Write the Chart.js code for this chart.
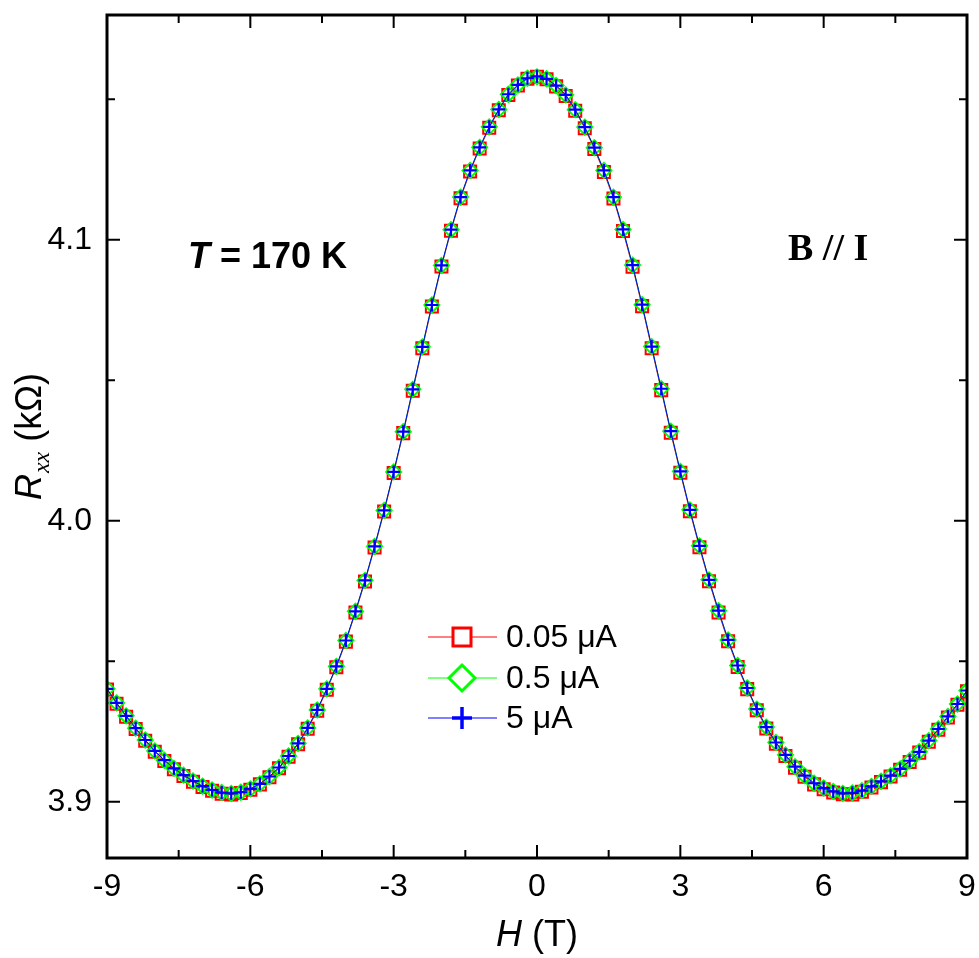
<!DOCTYPE html>
<html>
<head>
<meta charset="utf-8">
<script src="https://cdn.jsdelivr.net/npm/chart.js@4.4.1/dist/chart.umd.min.js"></script>
<style>
  html, body { margin: 0; padding: 0; background: #fff; }
  #wrap { width: 979px; height: 958px; }
</style>
</head>
<body>
<div id="wrap"><canvas id="rxxChart" width="979" height="958"></canvas></div>
<script>
// magnetic field H (T)
const fieldT = [
  -9.0, -8.8, -8.6, -8.4, -8.2, -8.0, -7.8, -7.6, -7.4, -7.2,
  -7.0, -6.8, -6.6, -6.4, -6.2, -6.0, -5.8, -5.6, -5.4, -5.2,
  -5.0, -4.8, -4.6, -4.4, -4.2, -4.0, -3.8, -3.6, -3.4, -3.2,
  -3.0, -2.8, -2.6, -2.4, -2.2, -2.0, -1.8, -1.6, -1.4, -1.2,
  -1.0, -0.8, -0.6, -0.4, -0.2, 0.0, 0.2, 0.4, 0.6, 0.8,
  1.0, 1.2, 1.4, 1.6, 1.8, 2.0, 2.2, 2.4, 2.6, 2.8,
  3.0, 3.2, 3.4, 3.6, 3.8, 4.0, 4.2, 4.4, 4.6, 4.8,
  5.0, 5.2, 5.4, 5.6, 5.8, 6.0, 6.2, 6.4, 6.6, 6.8,
  7.0, 7.2, 7.4, 7.6, 7.8, 8.0, 8.2, 8.4, 8.6, 8.8, 9.0
];

// Rxx (kOhm) for each current
const rxx005 = [
  3.9400, 3.9349, 3.9303, 3.9259, 3.9217, 3.9178, 3.9145, 3.9116, 3.9092, 3.9071,
  3.9053, 3.9039, 3.9029, 3.9026, 3.9031, 3.9043, 3.9062, 3.9087, 3.9119, 3.9160,
  3.9205, 3.9260, 3.9324, 3.9399, 3.9479, 3.9570, 3.9674, 3.9784, 3.9905, 4.0033,
  4.0170, 4.0312, 4.0463, 4.0614, 4.0763, 4.0905, 4.1032, 4.1148, 4.1243, 4.1325,
  4.1399, 4.1461, 4.1515, 4.1549, 4.1573, 4.1580, 4.1571, 4.1546, 4.1512, 4.1459,
  4.1397, 4.1323, 4.1241, 4.1147, 4.1031, 4.0904, 4.0764, 4.0614, 4.0465, 4.0313,
  4.0171, 4.0034, 3.9906, 3.9785, 3.9674, 3.9571, 3.9480, 3.9401, 3.9326, 3.9261,
  3.9207, 3.9163, 3.9121, 3.9089, 3.9062, 3.9045, 3.9033, 3.9027, 3.9026, 3.9036,
  3.9051, 3.9070, 3.9090, 3.9114, 3.9142, 3.9175, 3.9214, 3.9256, 3.9300, 3.9345, 3.9393
];
const rxx05 = [
  3.9402, 3.9352, 3.9306, 3.9262, 3.9220, 3.9181, 3.9148, 3.9119, 3.9095, 3.9074,
  3.9056, 3.9042, 3.9033, 3.9030, 3.9034, 3.9046, 3.9064, 3.9090, 3.9122, 3.9163,
  3.9208, 3.9263, 3.9327, 3.9402, 3.9482, 3.9574, 3.9678, 3.9788, 3.9909, 4.0037,
  4.0174, 4.0317, 4.0468, 4.0619, 4.0768, 4.0909, 4.1036, 4.1152, 4.1247, 4.1329,
  4.1402, 4.1464, 4.1518, 4.1551, 4.1575, 4.1580, 4.1573, 4.1549, 4.1516, 4.1463,
  4.1401, 4.1328, 4.1247, 4.1152, 4.1037, 4.0910, 4.0769, 4.0620, 4.0470, 4.0319,
  4.0176, 4.0039, 3.9911, 3.9790, 3.9680, 3.9576, 3.9485, 3.9405, 3.9330, 3.9266,
  3.9211, 3.9167, 3.9125, 3.9093, 3.9066, 3.9049, 3.9037, 3.9030, 3.9032, 3.9040,
  3.9055, 3.9073, 3.9093, 3.9117, 3.9146, 3.9178, 3.9218, 3.9259, 3.9304, 3.9348, 3.9396
];
const rxx5 = [
  3.9402, 3.9352, 3.9306, 3.9262, 3.9220, 3.9181, 3.9148, 3.9119, 3.9095, 3.9074,
  3.9056, 3.9042, 3.9033, 3.9030, 3.9034, 3.9046, 3.9064, 3.9090, 3.9122, 3.9163,
  3.9208, 3.9263, 3.9327, 3.9402, 3.9482, 3.9574, 3.9678, 3.9788, 3.9909, 4.0037,
  4.0174, 4.0317, 4.0468, 4.0619, 4.0768, 4.0909, 4.1036, 4.1152, 4.1247, 4.1329,
  4.1402, 4.1464, 4.1518, 4.1551, 4.1575, 4.1582, 4.1573, 4.1549, 4.1516, 4.1463,
  4.1401, 4.1328, 4.1247, 4.1152, 4.1037, 4.0910, 4.0769, 4.0620, 4.0470, 4.0319,
  4.0176, 4.0039, 3.9911, 3.9790, 3.9680, 3.9576, 3.9485, 3.9405, 3.9330, 3.9266,
  3.9211, 3.9167, 3.9125, 3.9093, 3.9066, 3.9049, 3.9037, 3.9030, 3.9032, 3.9040,
  3.9055, 3.9073, 3.9093, 3.9117, 3.9146, 3.9178, 3.9218, 3.9259, 3.9304, 3.9348, 3.9396
];

const seriesLabels = ['0.05 \u03bcA', '0.5 \u03bcA', '5 \u03bcA'];
const xTicks = [-9, -6, -3, 0, 3, 6, 9];
const xMinor = [-7.5, -4.5, -1.5, 1.5, 4.5, 7.5];
const yTicks = [3.9, 4.0, 4.1];
const yMinor = [3.95, 4.05, 4.15];

const SANS = "'Liberation Sans', Arial, sans-serif";
const SERIF = "'Liberation Serif', 'Times New Roman', serif";

const toPoints = arr => fieldT.map((h, i) => ({ x: h, y: arr[i] }));

// legend + frame + text drawn on top
const decor = {
  id: 'decor',
  afterDraw(chart) {
    const { ctx, chartArea: a, scales } = chart;
    const x = scales.x, y = scales.y;
    ctx.save();

    // frame
    ctx.strokeStyle = '#000';
    ctx.lineWidth = 3;
    ctx.strokeRect(a.left, a.top, a.right - a.left, a.bottom - a.top);

    // inward ticks on all four sides
    ctx.lineWidth = 2;
    ctx.beginPath();
    const xt = (v, len) => {
      const px = x.getPixelForValue(v);
      ctx.moveTo(px, a.bottom); ctx.lineTo(px, a.bottom - len);
      ctx.moveTo(px, a.top); ctx.lineTo(px, a.top + len);
    };
    const yt = (v, len) => {
      const py = y.getPixelForValue(v);
      ctx.moveTo(a.left, py); ctx.lineTo(a.left + len, py);
      ctx.moveTo(a.right, py); ctx.lineTo(a.right - len, py);
    };
    xTicks.forEach(v => xt(v, 13));
    xMinor.forEach(v => xt(v, 8));
    yTicks.forEach(v => yt(v, 13));
    yMinor.forEach(v => yt(v, 8));
    ctx.stroke();

    ctx.fillStyle = '#000';
    ctx.textBaseline = 'alphabetic';
    ctx.textAlign = 'left';

    // x axis title: H (T)
    ctx.font = 'italic 36px ' + SANS;
    const wH = ctx.measureText('H').width;
    ctx.font = '36px ' + SANS;
    const wT = ctx.measureText(' (T)').width;
    let sx = (a.left + a.right) / 2 - (wH + wT) / 2;
    ctx.font = 'italic 36px ' + SANS;
    ctx.fillText('H', sx, 946);
    ctx.font = '36px ' + SANS;
    ctx.fillText(' (T)', sx + wH, 946);

    // y axis title: Rxx (kΩ)
    ctx.save();
    ctx.translate(41, 437);
    ctx.rotate(-Math.PI / 2);
    ctx.font = 'italic 36px ' + SANS;
    const wR = ctx.measureText('R').width;
    ctx.font = 'italic 24px ' + SERIF;
    const wxx = ctx.measureText('xx').width;
    ctx.font = '36px ' + SANS;
    const wk = ctx.measureText(' (k\u03a9)').width;
    let ry = -(wR + wxx + wk) / 2;
    ctx.font = 'italic 36px ' + SANS;
    ctx.fillText('R', ry, 0);
    ctx.font = 'italic 24px ' + SERIF;
    ctx.fillText('xx', ry + wR + 1, 8);
    ctx.font = '36px ' + SANS;
    ctx.fillText(' (k\u03a9)', ry + wR + wxx + 1, 0);
    ctx.restore();

    // annotations
    ctx.font = 'italic bold 36px ' + SANS;
    ctx.fillText('T', 188, 268);
    const wTT = ctx.measureText('T').width;
    ctx.font = 'bold 36px ' + SANS;
    ctx.fillText(' = 170 K', 188 + wTT, 268);

    ctx.font = 'bold 38px ' + SERIF;
    ctx.fillText('B // I', 788, 260);

    // legend
    const rows = [637, 678, 718];
    const cols = ['#ff0000', '#00ff00', '#0000ff'];
    rows.forEach((ry2, i) => {
      ctx.strokeStyle = cols[i];
      ctx.lineWidth = 1;
      ctx.beginPath();
      ctx.moveTo(428, ry2); ctx.lineTo(497, ry2);
      ctx.stroke();
      ctx.beginPath();
      if (i === 0) {
        ctx.lineWidth = 3;
        ctx.fillStyle = '#fff';
        ctx.fillRect(453, ry2 - 9, 18, 18);
        ctx.strokeRect(453, ry2 - 9, 18, 18);
      } else if (i === 1) {
        ctx.lineWidth = 3;
        ctx.fillStyle = '#fff';
        ctx.moveTo(462, ry2 - 13); ctx.lineTo(475, ry2);
        ctx.lineTo(462, ry2 + 13); ctx.lineTo(449, ry2);
        ctx.closePath();
        ctx.fill();
        ctx.stroke();
      } else {
        ctx.lineWidth = 3.5;
        ctx.moveTo(452, ry2); ctx.lineTo(472, ry2);
        ctx.moveTo(462, ry2 - 11); ctx.lineTo(462, ry2 + 11);
        ctx.stroke();
      }
      ctx.fillStyle = '#000';
      ctx.font = '32px ' + SANS;
      ctx.textBaseline = 'middle';
      ctx.fillText(seriesLabels[i], 506, ry2 + 1);
      ctx.textBaseline = 'alphabetic';
    });

    ctx.restore();
  }
};

const ctx = document.getElementById('rxxChart').getContext('2d');
new Chart(ctx, {
  type: 'line',
  data: {
    datasets: [
      {
        label: seriesLabels[2],
        data: toPoints(rxx5),
        borderColor: '#0000ff',
        borderWidth: 1,
        pointStyle: 'cross',
        pointRadius: 6.5,
        pointBorderWidth: 2.2,
        pointBorderColor: '#0000ff',
        pointBackgroundColor: '#0000ff',
        tension: 0
      },
      {
        label: seriesLabels[1],
        data: toPoints(rxx05),
        borderColor: '#00ff00',
        borderWidth: 1,
        pointStyle: 'rectRot',
        pointRadius: 7.5,
        pointBorderWidth: 2,
        pointBorderColor: '#00ff00',
        pointBackgroundColor: 'rgba(255,255,255,0)',
        tension: 0
      },
      {
        label: seriesLabels[0],
        data: toPoints(rxx005),
        borderColor: '#ff0000',
        borderWidth: 1,
        pointStyle: 'rect',
        pointRadius: 8.5,
        pointBorderWidth: 2,
        pointBorderColor: '#ff0000',
        pointBackgroundColor: 'rgba(255,255,255,0)',
        tension: 0
      }
    ]
  },
  options: {
    responsive: false,
    animation: false,
    layout: { padding: { top: 15, right: 12, left: 0, bottom: 0 } },
    plugins: {
      legend: { display: false },
      tooltip: { enabled: false }
    },
    scales: {
      x: {
        type: 'linear',
        min: -9,
        max: 9,
        border: { display: false },
        grid: { display: false, drawTicks: false },
        afterBuildTicks: s => { s.ticks = xTicks.map(v => ({ value: v })); },
        afterFit: s => { s.height = 100; s.paddingLeft = 0; s.paddingRight = 0; },
        ticks: {
          color: '#000',
          padding: 10,
          font: { family: SANS, size: 32 },
          callback: v => String(v)
        }
      },
      y: {
        type: 'linear',
        min: 3.88,
        max: 4.18,
        border: { display: false },
        grid: { display: false, drawTicks: false },
        afterBuildTicks: s => { s.ticks = yTicks.map(v => ({ value: v })); },
        afterFit: s => { s.width = 107; s.paddingTop = 0; s.paddingBottom = 0; },
        ticks: {
          color: '#000',
          padding: 15,
          font: { family: SANS, size: 32 },
          callback: v => Number(v).toFixed(1)
        }
      }
    }
  },
  plugins: [decor]
});
</script>
</body>
</html>
